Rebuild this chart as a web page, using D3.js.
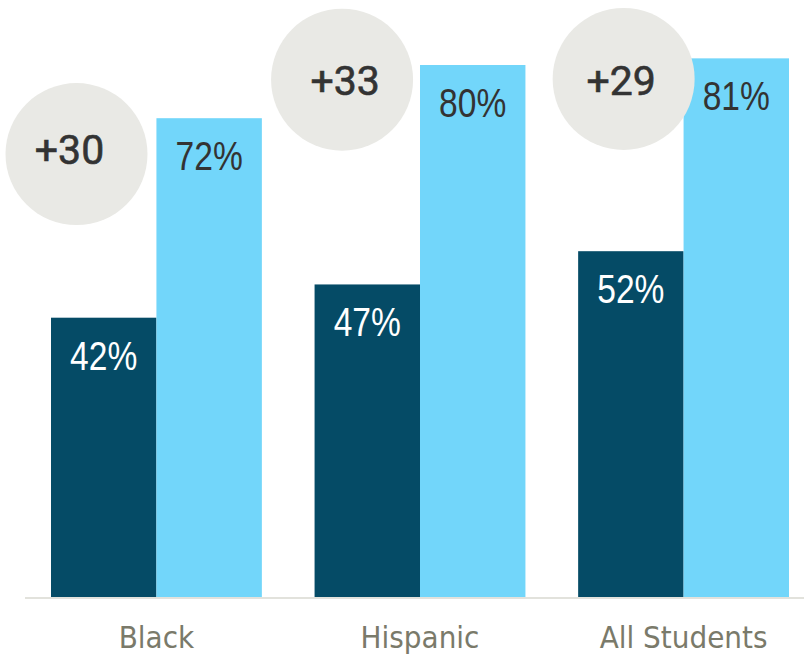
<!DOCTYPE html>
<html>
<head>
<meta charset="utf-8">
<script src="https://cdn.jsdelivr.net/npm/d3@7"></script>
<style>
  html, body { margin: 0; padding: 0; background: #ffffff; }
  svg { display: block; }
</style>
</head>
<body>
<svg id="chart" width="804" height="655"></svg>
<script>
// Student groups and the two rates compared for each
const categories = ["Black", "Hispanic", "All Students"];
const baseRates = [42, 47, 52];
const newRates = [72, 80, 81];
const gains = ["+30", "+33", "+29"];

// Badge placement: centre x as px offset from group start, centre y in % units
const badgeLayout = [
  { dx: 25.5, level: 66.6, textDx: -7, textDy: -5 },
  { dx: 27.5, level: 77.8, textDx: 3, textDy: 1 },
  { dx: 45.5, level: 77.9, textDx: -2.5, textDy: 1 }
];

const W = 804, H = 655;
const svg = d3.select("#chart");

const x = d3.scaleBand().domain(categories).range([51, 789]).paddingInner(0.2).paddingOuter(0);
const sub = d3.scaleBand().domain(["base", "new"]).range([0, x.bandwidth()]);
const y = d3.scaleLinear().domain([0, 90]).range([597, -1.5]);

const colors = { base: "#054b66", new: "#72d6fa" };

const rows = categories.map((c, i) => ({
  cat: c, base: baseRates[i], next: newRates[i], gain: gains[i], layout: badgeLayout[i]
}));

// Baseline
svg.append("line")
  .attr("x1", 25).attr("x2", W)
  .attr("y1", y(0) + 1).attr("y2", y(0) + 1)
  .attr("stroke", "#e2e2dc").attr("stroke-width", 2);

const g = svg.selectAll("g.group").data(rows).join("g")
  .attr("class", "group")
  .attr("transform", d => `translate(${x(d.cat)},0)`);

const bars = [
  { key: "base", val: d => d.base, text: "#ffffff" },
  { key: "new", val: d => d.next, text: "#333333" }
];

bars.forEach(b => {
  g.append("rect")
    .attr("x", sub(b.key))
    .attr("width", sub.bandwidth())
    .attr("y", d => y(b.val(d)))
    .attr("height", d => y(0) - y(b.val(d)))
    .attr("fill", colors[b.key]);

  // value label, narrowed horizontally
  g.append("text")
    .attr("transform", d => `translate(${sub(b.key) + sub.bandwidth() / 2},${y(b.val(d)) + 52}) scale(0.84,1)`)
    .attr("text-anchor", "middle")
    .attr("font-family", "'Liberation Sans', Arial, sans-serif")
    .attr("font-size", 40)
    .attr("fill", b.text)
    .text(d => b.val(d) + "%");
});

// Gain badges
g.append("circle")
  .attr("cx", d => d.layout.dx)
  .attr("cy", d => y(d.layout.level))
  .attr("r", 71)
  .attr("fill", "#e9e9e5");

g.append("text")
  .attr("x", d => d.layout.dx + d.layout.textDx)
  .attr("y", d => y(d.layout.level) + d.layout.textDy)
  .attr("dy", "0.36em")
  .attr("text-anchor", "middle")
  .attr("font-family", "Roboto, 'Liberation Sans', sans-serif")
  .attr("font-weight", 400)
  .attr("font-size", 41)
  .attr("fill", "#333333")
  .attr("stroke", "#333333")
  .attr("stroke-width", 0.6)
  .text(d => d.gain);

// Category labels
svg.selectAll("text.cat").data(categories).join("text")
  .attr("class", "cat")
  .attr("x", d => x(d) + x.bandwidth() / 2)
  .attr("y", 648)
  .attr("text-anchor", "middle")
  .attr("font-family", "'DejaVu Sans Condensed', sans-serif")
  .attr("font-size", 31)
  .attr("fill", "#7a7a6a")
  .text(d => d);
</script>
</body>
</html>
